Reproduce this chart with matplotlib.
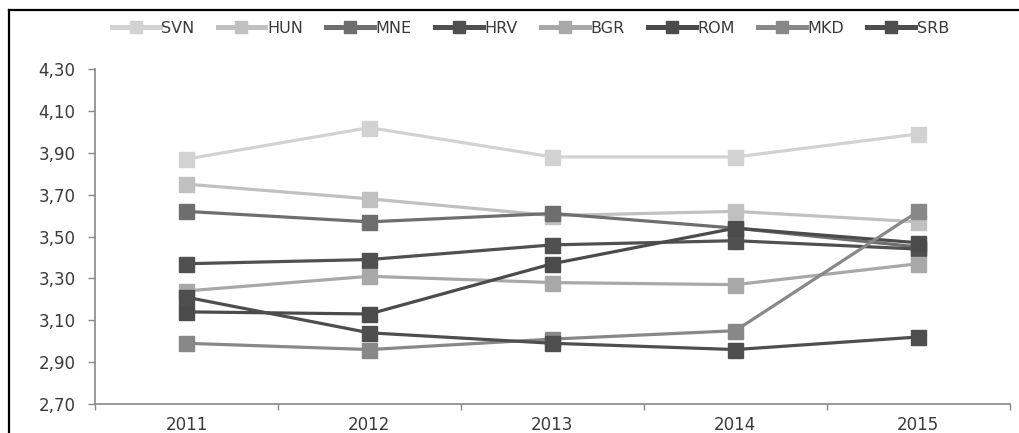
import matplotlib.pyplot as plt
from matplotlib.lines import Line2D
from matplotlib.ticker import FuncFormatter, FixedLocator

plt.rcParams['font.family'] = ['DejaVu Sans']

years = ['2011', '2012', '2013', '2014', '2015']
countries = ['SVN', 'HUN', 'MNE', 'HRV', 'BGR', 'ROM', 'MKD', 'SRB']

svn = [3.87, 4.02, 3.88, 3.88, 3.99]
hun = [3.75, 3.68, 3.60, 3.62, 3.57]
mne = [3.62, 3.57, 3.61, 3.54, 3.45]
hrv = [3.37, 3.39, 3.46, 3.48, 3.44]
bgr = [3.24, 3.31, 3.28, 3.27, 3.37]
rom = [3.14, 3.13, 3.37, 3.54, 3.47]
mkd = [2.99, 2.96, 3.01, 3.05, 3.62]
srb = [3.21, 3.04, 2.99, 2.96, 3.02]

series = [svn, hun, mne, hrv, bgr, rom, mkd, srb]
colors = ['#d2d2d2', '#c0c0c0', '#6e6e6e', '#505050', '#a8a8a8', '#4b4b4b', '#888888', '#4e4e4e']
txt = '#3a3a3a'

fig = plt.figure(figsize=(10.2, 4.33), dpi=100)
ax = fig.add_axes([0.0931, 0.067, 0.8969, 0.7736])

x = range(len(years))
for name, vals, c in zip(countries, series, colors):
    ax.plot(x, vals, color=c, lw=2.3, marker='s', ms=10.8, mec=c, mfc=c, label=name)

ax.set_xlim(-0.5, len(years) - 0.5)
ax.set_ylim(2.70, 4.30)
ax.yaxis.set_major_locator(FixedLocator([2.70 + 0.2 * i for i in range(9)]))
ax.yaxis.set_major_formatter(FuncFormatter(lambda v, p: f'{v:.2f}'.replace('.', ',')))

ax.set_xticks(list(x))
ax.set_xticklabels(years)
ax.set_xticks([i + 0.5 for i in range(-1, len(years))], minor=True)
ax.tick_params(axis='x', which='major', length=0, pad=9, labelsize=12, labelcolor=txt)
ax.tick_params(axis='x', which='minor', length=4, width=1, color='#888888', direction='out')
ax.tick_params(axis='y', length=5, width=1, color='#888888', pad=9, labelsize=12, labelcolor=txt)

for s in ['top', 'right']:
    ax.spines[s].set_visible(False)
for s in ['left', 'bottom']:
    ax.spines[s].set_color('#888888')
    ax.spines[s].set_linewidth(1.2)

leg = fig.legend(loc='center', bbox_to_anchor=(0.52, 0.935), ncol=8, frameon=False,
                 fontsize=11.5, handlelength=3.0, handletextpad=0.1, columnspacing=1.45,
                 markerscale=0.85)
for t in leg.get_texts():
    t.set_color(txt)
for h in leg.legend_handles:
    h.set_linewidth(3.6)

# chart border (cropped)
fig.add_artist(Line2D([9 / 1020, 1], [1 - 10 / 433, 1 - 10 / 433], color='black', lw=1.6, transform=fig.transFigure))
fig.add_artist(Line2D([9 / 1020, 9 / 1020], [0, 1 - 10 / 433], color='black', lw=1.6, transform=fig.transFigure))

fig.savefig('out.png', dpi=100)
